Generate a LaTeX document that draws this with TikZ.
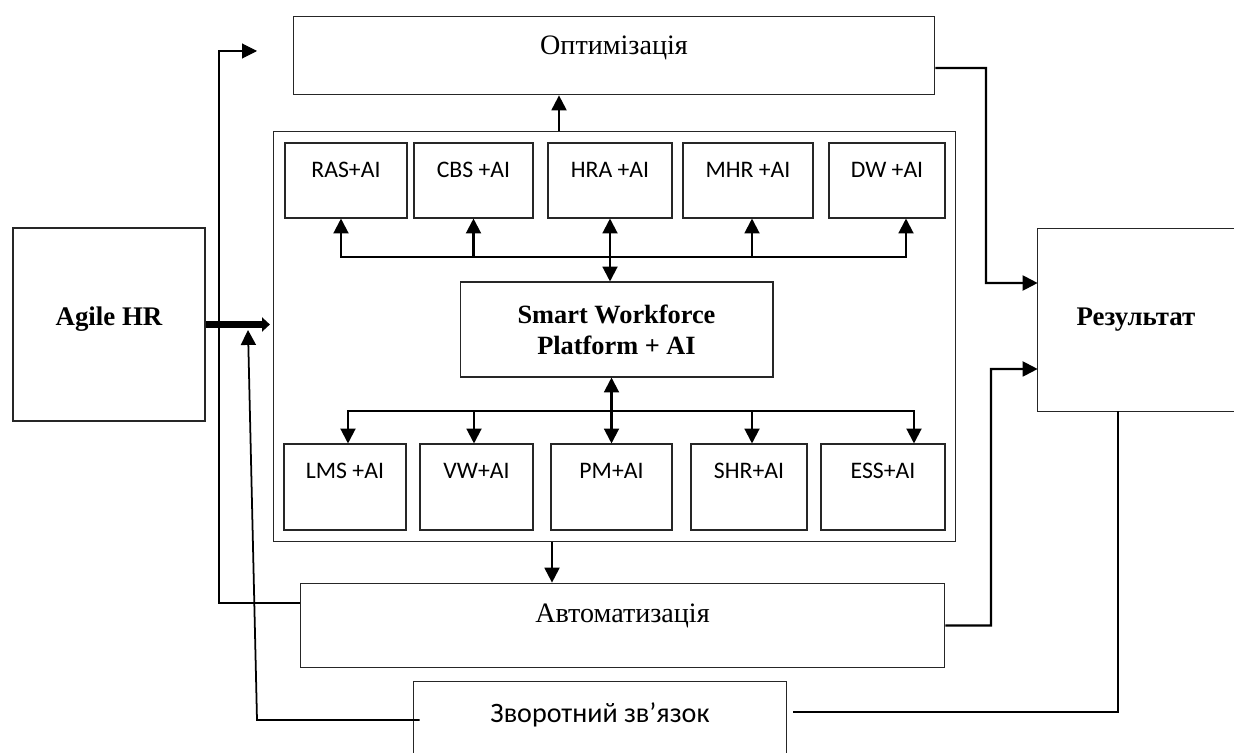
\documentclass[tikz,border=0pt]{standalone}
\usepackage{fontspec}
\setmainfont{Liberation Serif}
\newfontfamily\lblfont{Carlito}
\usetikzlibrary{arrows.meta}

\tikzset{
    box/.style={draw=black!85,line width=0.6pt,inner sep=0pt},
    modbox/.style={box,font=\lblfont\fontsize{13.5}{16}\selectfont,text height=19.5pt},
    uprow/.style={modbox,minimum height=1.5cm,text depth=22.8pt},
    lowrow/.style={modbox,minimum height=1.72cm,text depth=29.3pt},
    link/.style={line width=1.2pt,->},
    fbline/.style={line width=0.6pt},
}

\begin{document}
\begin{tikzpicture}[x=0.02cm,y=-0.02cm,>={Triangle[length=8.5pt,width=8.5pt]}]
        \useasboundingbox (0,0) rectangle (1234,753);

        \node[box,minimum width=12.84cm,text height=21.7pt,text depth=23.1pt,font=\fontsize{16}{19}\selectfont] (opt) at (614,55.5) {Оптимізація};
        \node[box,minimum width=13.66cm,minimum height=8.22cm] (main) at (614.5,336.5) {};
        \node[box,minimum width=12.9cm,text height=22.3pt,text depth=25.9pt,font=\fontsize{16}{19}\selectfont] (auto) at (622.5,625.5) {Автоматизація};
        \node[box,minimum width=3.84cm,minimum height=3.86cm,text height=11pt,text depth=9.8pt,font=\bfseries\fontsize{15.3}{18}\selectfont] (agile) at (109,324.5) {Agile HR};
        \node[inner sep=0pt,minimum width=3.92cm,minimum height=3.64cm,font=\bfseries\fontsize{15.3}{18}\selectfont] (res) at (1136,320) {Результат};
        \draw[box] (res.north east) -- (res.north west) -- (res.south west) -- (res.south east);
        \node[inner sep=0pt,minimum width=7.44cm,text height=22.7pt,text depth=17.5pt,font=\lblfont\fontsize{16}{19}\selectfont] (fb) at (600,717.5) {Зворотний зв’язок};
        \draw[box] (fb.south west) -- (fb.north west) -- (fb.north east) -- (fb.south east);

        \node[box,minimum width=6.26cm,minimum height=1.9cm,align=center,font=\bfseries\fontsize{15}{17.5}\selectfont] (smart) at (616.5,329.5) {Smart Workforce\\Platform + AI};

        \node[uprow,minimum width=2.44cm] (ras) at (346,180.5) {RAS+AI};
        \node[uprow,minimum width=2.38cm] (cbs) at (473.5,180.5) {CBS +AI};
        \node[uprow,minimum width=2.48cm] (hra) at (610,180.5) {HRA +AI};
        \node[uprow,minimum width=2.6cm] (mhr) at (748,180.5) {MHR +AI};
        \node[uprow,minimum width=2.32cm] (dw) at (887,180.5) {DW +AI};

        \node[lowrow,minimum width=2.44cm] (lms) at (345,487) {LMS +AI};
        \node[lowrow,minimum width=2.26cm] (vw) at (476.5,487) {VW+AI};
        \node[lowrow,minimum width=2.42cm] (pm) at (611.5,487) {PM+AI};
        \node[lowrow,minimum width=2.32cm] (shr) at (749,487) {SHR+AI};
        \node[lowrow,minimum width=2.48cm] (ess) at (883,487) {ESS+AI};

        \coordinate (upbus) at (610,257);
        \coordinate (lowbus) at (610,411);
        \coordinate (optin) at (257,51);
        \coordinate (fbtip) at (248,330);

        \draw[link] (upbus) -| ([xshift=-0.1cm]ras.south);
        \draw[link] (upbus) -| (cbs.south);
        \draw[link] (upbus) -| ([xshift=0.08cm]mhr.south);
        \draw[link] (upbus) -| ([xshift=0.38cm]dw.south);
        \draw[link,<->] (hra.south |- smart.north) -- (hra.south);

        \draw[link] (lowbus) -| ([xshift=0.06cm]lms.north);
        \draw[link] (lowbus) -| ([xshift=-0.05cm]vw.north);
        \draw[link] (lowbus) -| ([xshift=0.06cm]shr.north);
        \draw[link] (lowbus) -| ([xshift=0.62cm]ess.north);
        \draw[link,<->] (pm.north |- smart.south) -- (pm.north);

        \draw[link] ([xshift=-1.11cm]main.north) -- ([xshift=-1.11cm]main.north |- opt.south);
        \draw[link] ([xshift=-1.25cm]main.south) -- ([xshift=-1.25cm]main.south |- auto.north);

        \draw[line width=4pt,-{Triangle[length=4.5pt,width=8pt]},shorten >=1.5pt] (agile.east) -- (agile.east -| main.west);

        \draw[link] ([yshift=-0.25cm]opt.east) -| (986,283) -- ([yshift=0.74cm]res.west);
        \draw[link] (auto.east) -| (991,369) -- ([yshift=-0.98cm]res.west);

        \draw[fbline,->] ([yshift=0.45cm]auto.west) -| (219,51) -- (optin);
        \draw[fbline] ([xshift=-0.36cm]res.south) |- ([xshift=0.14cm,yshift=0.11cm]fb.east);
        \draw[line width=1pt,->] ([xshift=0.12cm,yshift=-0.05cm]fb.west) -- (257,720) -- (fbtip);
    \end{tikzpicture}
\end{document}
